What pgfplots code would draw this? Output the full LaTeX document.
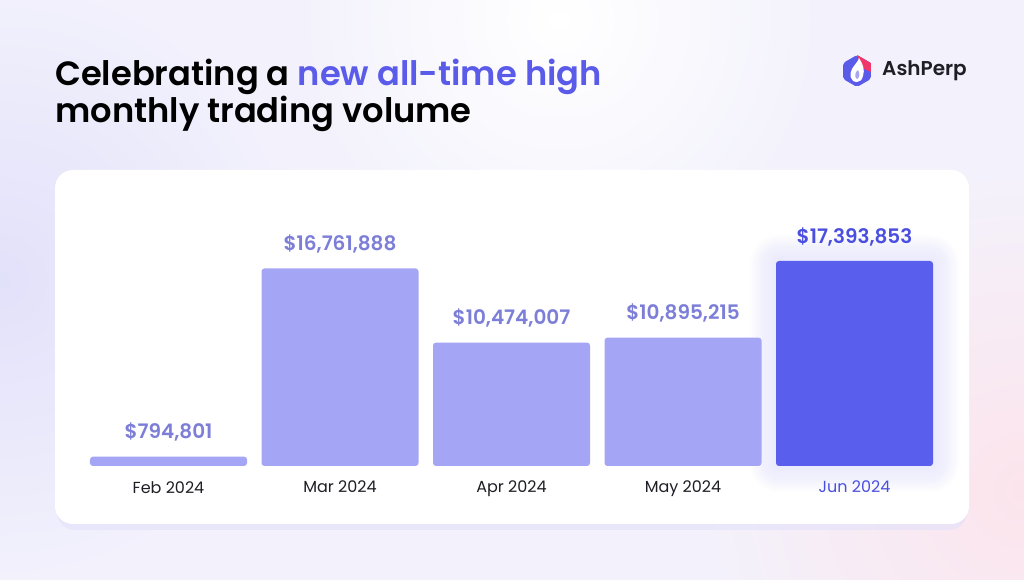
\documentclass[border=0pt]{standalone}
\usepackage{fontspec}
\setmainfont{Poppins}
\newfontfamily\titlefont{Poppins SemiBold}
\usepackage{pgfplots}
\pgfplotsset{compat=1.18}
\definecolor{bg}{HTML}{F3F2FC}
\definecolor{lav}{HTML}{E2E1FA}
\definecolor{pinkc}{HTML}{FCE4EC}
\definecolor{accent}{HTML}{5B5BEA}
\definecolor{lightbar}{HTML}{A5A5F5}
\definecolor{lightlab}{HTML}{7C7ED8}
\definecolor{darkbar}{HTML}{5A5EEC}
\definecolor{darklab}{HTML}{4B4FE0}
\definecolor{ticktxt}{HTML}{1E1E24}
\definecolor{glowc}{HTML}{E4E3FD}
\definecolor{pinklogo}{HTML}{F0386B}
\begin{document}
\begin{tikzpicture}[x=1pt,y=1pt]
\begin{scope}
\clip (0,0) rectangle (1024,580);
\fill[bg] (0,0) rectangle (1024,580);
\shade[inner color=lav, outer color=bg] (0,300) circle (320pt);
\shade[inner color=pinkc, outer color=bg] (1024,90) circle (330pt);
\shade[inner color=white, outer color=bg] (560,560) circle (260pt);
\end{scope}
% card shadow and card
\fill[lav, opacity=0.6, rounded corners=18pt] (57,50) rectangle (967,404);
\fill[white, rounded corners=18pt] (55,56) rectangle (969,410);
% soft glow around last bar
\foreach \d in {2,4,...,26}{
  \fill[glowc, opacity=0.07, rounded corners=\d pt+3pt] (776-\d,114-\d) rectangle (933+\d,319+\d);
}
% title
\node[anchor=base west, inner sep=0, font=\fontsize{33.7}{38}\titlefont] at (55,494)
  {Celebrating a \textcolor{accent}{new all-time high}};
\node[anchor=base west, inner sep=0, font=\fontsize{33.7}{38}\titlefont] at (55,457)
  {monthly trading volume};
% logo
\fill[accent, rounded corners=2pt] (857,509) +(90:16) -- +(150:16) -- +(210:16) -- +(270:16) -- +(330:16) -- +(30:16) -- cycle;
\fill[pinklogo] (857,525) -- (870.86,517) -- (870.86,508) -- (862,512) -- cycle;
\fill[white] (857,498) .. controls (850,498) and (849,506) .. (852,511) .. controls (854,515) and (858,518) .. (859,522) .. controls (863,516) and (865,510) .. (863,504) .. controls (862,500) and (860,498) .. (857,498) -- cycle;
\fill[accent!55] (857,501) .. controls (854,503) and (855,508) .. (858,510) .. controls (860,506) and (860,503) .. (857,501) -- cycle;
\node[anchor=west, inner sep=0, font=\fontsize{20}{24}\titlefont, text=ticktxt] at (882,509) {AshPerp};
\begin{axis}[
  at={(82.75pt,114pt)}, anchor=south west,
  scale only axis, width=857.5pt, height=276pt,
  xmin=-0.5, xmax=4.5, ymin=0, ymax=23418000,
  axis line style={draw=none}, major tick length=0pt,
  ytick=\empty, xtick={0,1,2,3,4},
  xticklabels={Feb 2024, Mar 2024, Apr 2024, May 2024, \textcolor{darklab}{Jun 2024}},
  xticklabel style={anchor=north, inner sep=0pt, yshift=-15pt, font=\fontsize{16}{18}\selectfont, text=ticktxt},
  ybar, bar width=0.9155, bar shift=0pt,
  nodes near coords, point meta=explicit symbolic,
  every node near coord/.append style={anchor=south, inner sep=0pt, yshift=15pt, font=\fontsize{20}{24}\titlefont},
  clip=false,
]
\addplot[fill=lightbar, draw=none, rounded corners=3pt, every node near coord/.append style={text=lightlab}]
  coordinates {(0,794801) [\$794,801] (1,16761888) [\$16,761,888] (2,10474007) [\$10,474,007] (3,10895215) [\$10,895,215]};
\addplot[fill=darkbar, draw=none, rounded corners=3pt, every node near coord/.append style={text=darklab}]
  coordinates {(4,17393853) [\$17,393,853]};
\end{axis}
\end{tikzpicture}
\end{document}
